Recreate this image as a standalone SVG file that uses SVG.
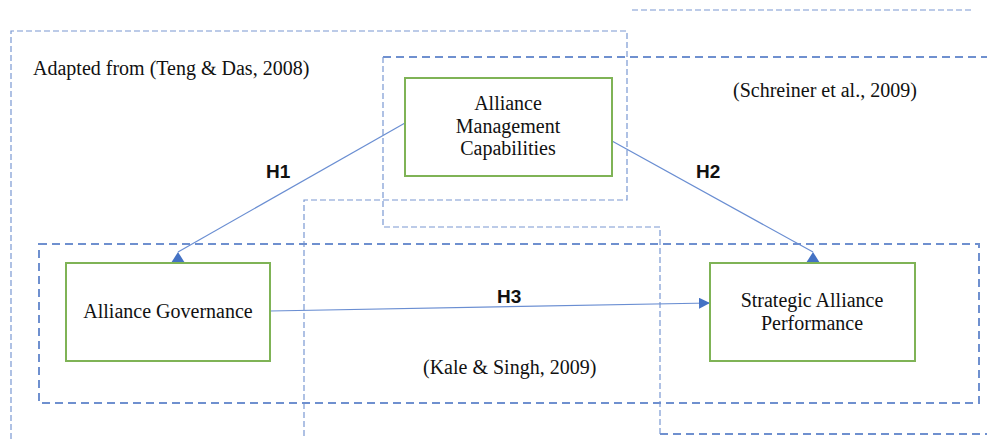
<svg xmlns="http://www.w3.org/2000/svg" width="987" height="441" viewBox="0 0 987 441">
  <style>
    .thin { fill: none; stroke: #7a98d2; stroke-width: 1.2; stroke-dasharray: 6 3; }
    .thick { fill: none; stroke: #6f90cf; stroke-width: 2; stroke-dasharray: 8 5; }
    .node { fill: #ffffff; stroke: #7fb356; stroke-width: 2; }
    .conn { fill: none; stroke: #6a8ed2; stroke-width: 1.2; }
    .serif { font-family: "Liberation Serif", "Times New Roman", serif; font-size: 20px; fill: #111111; }
    .h { font-family: "Liberation Sans", Arial, sans-serif; font-size: 19px; font-weight: bold; fill: #111111; }
  </style>
  <defs>
    <marker id="arrow" viewBox="0 0 10 10" refX="10" refY="5" markerWidth="11" markerHeight="11" markerUnits="userSpaceOnUse" orient="auto">
      <path d="M0,0 L10,5 L0,10 z" fill="#4472c4"/>
    </marker>
    <marker id="arrowUp" viewBox="0 0 11 14" refX="11" refY="7" markerWidth="11" markerHeight="14" markerUnits="userSpaceOnUse" orient="270">
      <path d="M0,0 L11,7 L0,14 z" fill="#4472c4"/>
    </marker>
  </defs>
  <rect width="987" height="441" fill="#ffffff"/>

  <g id="regions">
    <line class="thin" x1="632" y1="10" x2="973" y2="10"/>
    <g id="region-teng-das">
      <polyline class="thin" points="304,436 304,200 627,200 627,31 11,31 11,441"/>
      <text class="serif" x="33" y="75">Adapted from (Teng &amp; Das, 2008)</text>
    </g>
    <g id="region-schreiner">
      <line class="thick" x1="383" y1="57" x2="987" y2="57"/>
      <polyline class="thin" points="383,57 383,227 660,227 660,434"/>
      <line class="thick" x1="660" y1="434" x2="987" y2="434"/>
      <text class="serif" x="733" y="97">(Schreiner et al., 2009)</text>
    </g>
    <g id="region-kale-singh">
      <rect class="thick" x="39" y="244" width="940" height="159"/>
      <text class="serif" x="423" y="374">(Kale &amp; Singh, 2009)</text>
    </g>
  </g>

  <g id="connectors">
    <line id="c-h1" class="conn" x1="405" y1="123" x2="178" y2="252" marker-end="url(#arrowUp)"/>
    <line id="c-h2" class="conn" x1="612" y1="141" x2="813" y2="252" marker-end="url(#arrowUp)"/>
    <line id="c-h3" class="conn" x1="270" y1="311" x2="710" y2="303" marker-end="url(#arrow)"/>
    <text class="h" x="266" y="178">H1</text>
    <text class="h" x="696" y="178">H2</text>
    <text class="h" x="497" y="303">H3</text>
  </g>

  <g id="node-amc">
    <rect class="node" x="405" y="78" width="207" height="98"/>
    <text class="serif" text-anchor="middle" x="508" y="110">Alliance</text>
    <text class="serif" text-anchor="middle" x="508" y="133">Management</text>
    <text class="serif" text-anchor="middle" x="508" y="155">Capabilities</text>
  </g>

  <g id="node-governance">
    <rect class="node" x="66" y="263" width="204" height="98"/>
    <text class="serif" text-anchor="middle" x="168" y="318">Alliance Governance</text>
  </g>

  <g id="node-performance">
    <rect class="node" x="710" y="263" width="205" height="98"/>
    <text class="serif" text-anchor="middle" x="812" y="307">Strategic Alliance</text>
    <text class="serif" text-anchor="middle" x="812" y="330">Performance</text>
  </g>
</svg>
